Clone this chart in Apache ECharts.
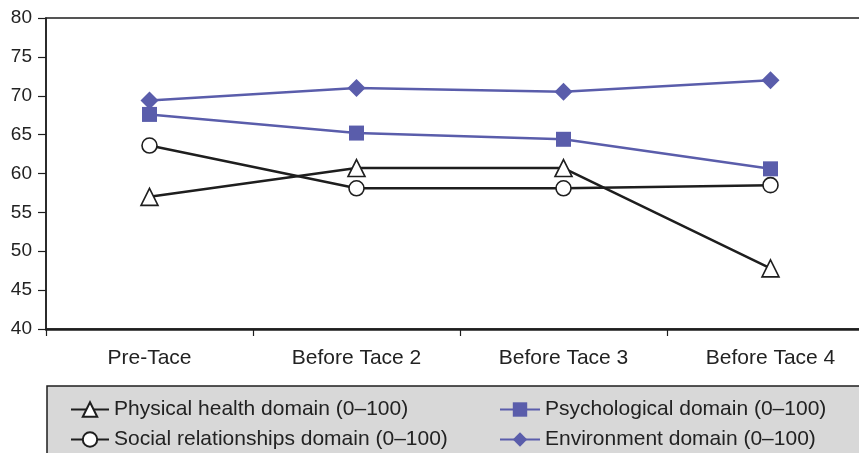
<!DOCTYPE html>
<html>
<head>
<meta charset="utf-8">
<script src="https://cdn.jsdelivr.net/npm/echarts@6/dist/echarts.min.js"></script>
<style>
  html, body { margin: 0; padding: 0; background: #fff; }
  #main { width: 859px; height: 453px; }
</style>
</head>
<body>
<div id="main"></div>
<script type="text/javascript">
// data
var categories = ['Pre-Tace', 'Before Tace 2', 'Before Tace 3', 'Before Tace 4'];
var physical = [57.0, 60.7, 60.7, 47.8];
var social = [63.6, 58.1, 58.1, 58.5];
var psychological = [67.6, 65.2, 64.4, 60.6];
var environment = [69.4, 71.0, 70.5, 72.0];
var yTicks = { min: 40, max: 80, interval: 5 };

var black = '#1e1e1e';
var blue = '#5a5dab';
var font = 'Liberation Sans, Arial, sans-serif';

var myChart = echarts.init(document.getElementById('main'));

function lineSeries(name, data, color, symbol, size, hollow) {
    return {
        name: name,
        type: 'line',
        data: data,
        symbol: symbol,
        symbolSize: size,
        showAllSymbol: true,
        lineStyle: { color: color, width: 2.5 },
        itemStyle: hollow
            ? { color: '#fff', borderColor: black, borderWidth: 1.6 }
            : { color: color, borderWidth: 0 },
        z: hollow ? 3 : 2
    };
}

var legendText = { fontFamily: font, fontSize: 21, color: '#222' };

var option = {
    animation: false,
    grid: {
        left: 46, width: 828, top: 18, height: 311,
        containLabel: false, outerBoundsMode: 'none',
        show: true, borderColor: black, borderWidth: 1.5
    },
    graphic: [{
        type: 'rect',
        shape: { x: 47, y: 386, width: 830, height: 80 },
        style: { fill: '#d8d8d8', stroke: black, lineWidth: 1.5 },
        z: -1
    }],
    legend: [
        {
            orient: 'vertical', left: 70, top: 399, padding: 0,
            itemWidth: 38, itemHeight: 18, itemGap: 9,
            textStyle: legendText,
            data: ['Physical health domain (0\u2013100)', 'Social relationships domain (0\u2013100)']
        },
        {
            orient: 'vertical', left: 499, top: 399, padding: 0,
            itemWidth: 40, itemHeight: 18, itemGap: 9,
            textStyle: legendText,
            data: ['Psychological domain (0\u2013100)', 'Environment domain (0\u2013100)']
        }
    ],
    xAxis: {
        type: 'category',
        data: categories,
        boundaryGap: true,
        axisLine: { lineStyle: { color: black, width: 2.5 } },
        axisTick: { show: true, length: 7, lineStyle: { color: black, width: 1.2 } },
        axisLabel: { fontFamily: font, fontSize: 21, color: '#222', margin: 19 }
    },
    yAxis: {
        type: 'value',
        min: yTicks.min, max: yTicks.max, interval: yTicks.interval,
        splitLine: { show: false },
        axisLine: { show: true, lineStyle: { color: black, width: 1.5 } },
        axisTick: { show: true, length: 8, lineStyle: { color: black, width: 1.2 } },
        axisLabel: { fontFamily: font, fontSize: 19, color: '#222', margin: 14 }
    },
    series: [
        lineSeries('Physical health domain (0\u2013100)', physical, black, 'triangle', [17, 17], true),
        lineSeries('Psychological domain (0\u2013100)', psychological, blue, 'rect', [15, 15], false),
        lineSeries('Social relationships domain (0\u2013100)', social, black, 'circle', 15, true),
        lineSeries('Environment domain (0\u2013100)', environment, blue, 'diamond', [18, 18], false)
    ]
};

myChart.setOption(option);
</script>
</body>
</html>
